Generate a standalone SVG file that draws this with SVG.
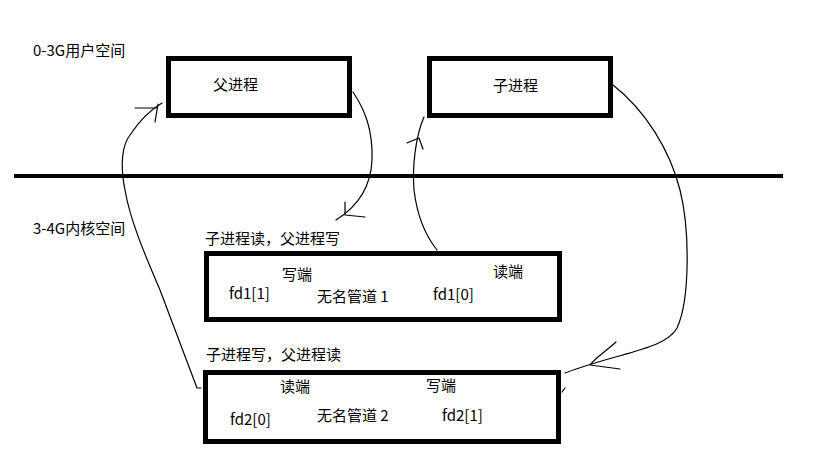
<svg xmlns="http://www.w3.org/2000/svg" width="819" height="460" viewBox="0 0 819 460">
<style>
.box{fill:none;stroke:#000;stroke-width:5}
.t{font-family:"Noto Sans CJK SC","Liberation Sans",sans-serif;font-size:15px;fill:#000}
.c{fill:none;stroke:#000;stroke-width:1.2;stroke-linejoin:round;stroke-linecap:round}
</style>
<rect width="819" height="460" fill="#fff"/>
<g id="labels">
<text class="t" x="33" y="56">0-3G用户空间</text>
<text class="t" x="33" y="234">3-4G内核空间</text>
</g>
<g id="divider"><line x1="14" y1="176" x2="783" y2="176" stroke="#000" stroke-width="4"/></g>
<g id="parent">
<rect class="box" x="168.5" y="58.5" width="181" height="57"/>
<text class="t" x="213" y="90">父进程</text>
</g>
<g id="child">
<rect class="box" x="429.5" y="58.5" width="181" height="57"/>
<text class="t" x="493" y="91">子进程</text>
</g>
<g id="pipe1">
<text class="t" x="205" y="244">子进程读，父进程写</text>
<rect class="box" x="206.5" y="253.5" width="353" height="66"/>
<text class="t" x="282" y="280">写端</text>
<text class="t" x="493" y="277">读端</text>
<text class="t" x="229" y="299">fd1[1]</text>
<text class="t" x="317" y="302">无名管道 1</text>
<text class="t" x="433" y="300">fd1[0]</text>
</g>
<g id="pipe2">
<text class="t" x="206" y="360">子进程写，父进程读</text>
<rect class="box" x="205.5" y="372.5" width="353" height="69"/>
<text class="t" x="280" y="392">读端</text>
<text class="t" x="426" y="391">写端</text>
<text class="t" x="230" y="425">fd2[0]</text>
<text class="t" x="317" y="421">无名管道 2</text>
<text class="t" x="442" y="421">fd2[1]</text>
</g>
<g id="connectors">
<path class="c" d="M201,388 L197,388 C190,370 175,330 160,290 C145,255 130,220 125,190 C120,165 122,145 130,135 C140,120 150,110 162,103"/>
<path class="c" d="M135,108 L157,108 M158,104 L155,122"/>
<path class="c" d="M353,92 C365,110 373,130 372,160 C371,185 360,205 336,220"/>
<path class="c" d="M345,202 L345,215 L365,217"/>
<path class="c" d="M437,250 C425,235 417,215 414,190 C412,165 416,135 424,117"/>
<path class="c" d="M407,143 L419,138 L423,149"/>
<path class="c" d="M613,85 C645,110 670,150 680,190 C690,230 690,300 677,328 C665,350 620,352 565,373"/>
<path class="c" d="M616,342 C605,352 595,358 590,365 L620,369"/>
<path class="c" d="M562,392 L565,388"/>
</g>
</svg>
